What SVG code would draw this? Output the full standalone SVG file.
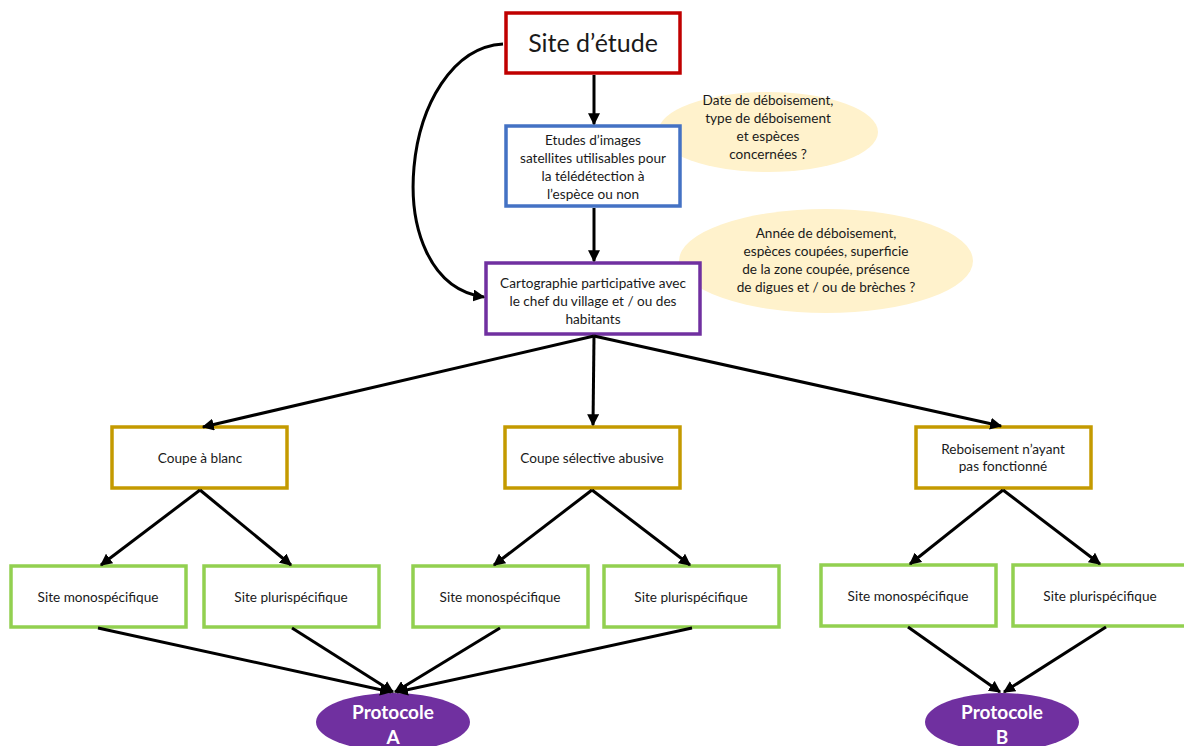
<svg xmlns="http://www.w3.org/2000/svg" width="1184" height="746" viewBox="0 0 1184 746">
<defs>
<marker id="arr" viewBox="0 0 10 10" refX="9" refY="5" markerWidth="4" markerHeight="4" orient="auto" markerUnits="strokeWidth">
<path d="M0,0 L10,5 L0,10 z" fill="#000"/>
</marker>
<style>
.t{font-family:Lato,"Liberation Sans",sans-serif;font-size:13.6px;fill:#1a1a1a;text-anchor:middle}
.box{fill:#fff;stroke-width:3.5}
.red{stroke:#C00000}
.blue{stroke:#4472C4}
.pur{stroke:#7030A0}
.gold{stroke:#C49A00}
.green{stroke:#92D050}
.note{fill:#FFF2CC}
.prot{fill:#7030A0}
.pt{font-family:Lato,"Liberation Sans",sans-serif;font-size:19px;font-weight:bold;fill:#fff;text-anchor:middle}
.c{fill:none;stroke:#000;stroke-width:3;marker-end:url(#arr)}
</style>
</defs>
<g id="note1"><ellipse class="note" cx="768" cy="132" rx="110" ry="40"/>
<text class="t" x="768" y="105">Date de déboisement,</text>
<text class="t" x="768" y="123">type de déboisement</text>
<text class="t" x="768" y="141">et espèces</text>
<text class="t" x="768" y="159">concernées ?</text></g>
<g id="note2"><ellipse class="note" cx="826" cy="261" rx="147" ry="52"/>
<text class="t" x="826" y="238">Année de déboisement,</text>
<text class="t" x="826" y="256">espèces coupées, superficie</text>
<text class="t" x="826" y="274">de la zone coupée, présence</text>
<text class="t" x="826" y="292">de digues et / ou de brèches ?</text></g>
<g id="site"><rect class="box red" x="506" y="13" width="174" height="60"/>
<text class="t" x="593" y="52" style="font-size:25px">Site d’étude</text></g>
<g id="etudes"><rect class="box blue" x="506" y="126" width="174" height="80"/>
<text class="t" x="593" y="145">Etudes d’images</text>
<text class="t" x="593" y="163">satellites utilisables pour</text>
<text class="t" x="593" y="181">la télédétection à</text>
<text class="t" x="593" y="199">l’espèce ou non</text></g>
<g id="carto"><rect class="box pur" x="486" y="263" width="214" height="71"/>
<text class="t" x="593" y="288">Cartographie participative avec</text>
<text class="t" x="593" y="306">le chef du village et / ou des</text>
<text class="t" x="593" y="324">habitants</text></g>
<g id="blanc"><rect class="box gold" x="112" y="427" width="175" height="61"/>
<text class="t" x="200" y="463">Coupe à blanc</text></g>
<g id="selective"><rect class="box gold" x="505" y="427" width="175" height="61"/>
<text class="t" x="592" y="463">Coupe sélective abusive</text></g>
<g id="rebois"><rect class="box gold" x="916" y="427" width="175" height="61"/>
<text class="t" x="1003" y="454">Reboisement n’ayant</text>
<text class="t" x="1003" y="471">pas fonctionné</text></g>
<g id="mono1"><rect class="box green" x="11" y="566" width="175" height="61"/>
<text class="t" x="98" y="602">Site monospécifique</text></g>
<g id="pluri1"><rect class="box green" x="204" y="566" width="175" height="61"/>
<text class="t" x="291" y="602">Site plurispécifique</text></g>
<g id="mono2"><rect class="box green" x="413" y="566" width="175" height="61"/>
<text class="t" x="500" y="602">Site monospécifique</text></g>
<g id="pluri2"><rect class="box green" x="604" y="566" width="175" height="61"/>
<text class="t" x="691" y="602">Site plurispécifique</text></g>
<g id="mono3"><rect class="box green" x="821" y="565" width="175" height="61"/>
<text class="t" x="908" y="601">Site monospécifique</text></g>
<g id="pluri3"><rect class="box green" x="1013" y="565" width="175" height="61"/>
<text class="t" x="1100" y="601">Site plurispécifique</text></g>
<g id="protA"><ellipse class="prot" cx="393" cy="722" rx="77" ry="29"/>
<text class="pt" x="393" y="719">Protocole</text>
<text class="pt" x="393" y="744">A</text></g>
<g id="protB"><ellipse class="prot" cx="1002" cy="722" rx="77" ry="29"/>
<text class="pt" x="1002" y="719">Protocole</text>
<text class="pt" x="1002" y="744">B</text></g>
<g id="connectors">
<path class="c" d="M594,75 L594,124"/>
<path class="c" d="M594,208 L594,261"/>
<path class="c" d="M503,44 C400,50 375,282 484,297"/>
<path class="c" d="M594,336 L203,427"/>
<path class="c" d="M594,336 L593,425"/>
<path class="c" d="M594,336 L1001,426"/>
<path class="c" d="M200,490 L101,565"/>
<path class="c" d="M200,490 L291,565"/>
<path class="c" d="M592,490 L494,565"/>
<path class="c" d="M592,490 L690,565"/>
<path class="c" d="M1003,490 L910,564"/>
<path class="c" d="M1003,490 L1100,564"/>
<path class="c" d="M98,628 L391,692"/>
<path class="c" d="M292,628 L393,692"/>
<path class="c" d="M500,628 L395,692"/>
<path class="c" d="M692,628 L397,692"/>
<path class="c" d="M908,627 L1000,692"/>
<path class="c" d="M1106,627 L1004,692"/>
</g>
</svg>
